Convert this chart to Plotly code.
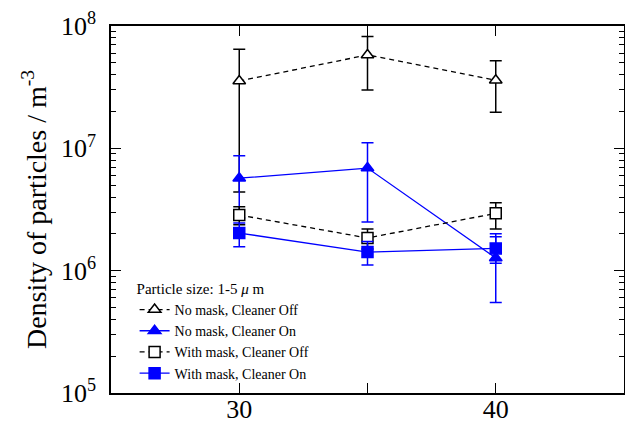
import plotly.graph_objects as go

# Temperature-like x positions (three measurement points)
x_vals = [30, 35, 40]

# No mask, cleaner off (open triangle, black dashed)
nomask_off = [3.55e7, 5.8e7, 3.6e7]
nomask_off_hi = [6.45e7, 8.2e7, 5.2e7]
nomask_off_lo = [4.4e6, 3.0e7, 1.97e7]

# No mask, cleaner on (filled triangle, blue)
nomask_on = [5.7e6, 6.9e6, 1.27e6]
nomask_on_hi = [8.7e6, 1.11e7, 2.0e6]
nomask_on_lo = [2.7e6, 2.5e6, 5.5e5]

# With mask, cleaner off (open square, black dashed)
mask_off = [2.85e6, 1.85e6, 2.94e6]
mask_off_hi = [3.33e6, 2.19e6, 3.59e6]
mask_off_lo = [2.37e6, 1.5e6, 2.19e6]

# With mask, cleaner on (filled square, blue)
mask_on = [2.03e6, 1.42e6, 1.52e6]
mask_on_hi = [2.45e6, 1.73e6, 1.89e6]
mask_on_lo = [1.57e6, 1.11e6, 1.15e6]

y_tickvals = [1e5, 1e6, 1e7, 1e8]
y_ticktext = ["10<sup>5</sup>", "10<sup>6</sup>", "10<sup>7</sup>", "10<sup>8</sup>"]

BLUE = "rgb(0,0,255)"
FONT = "Liberation Serif, Times New Roman, serif"


def _trace(name, y, hi, lo, color, dash, symbol, size, fill):
    return go.Scatter(
        x=x_vals, y=y, name=name, mode="lines+markers",
        line=dict(color=color, width=1.3, dash=dash),
        marker=dict(symbol=symbol, size=size, color=fill,
                    line=dict(color=color, width=1.5)),
        error_y=dict(type="data", symmetric=False,
                     array=[h - v for h, v in zip(hi, y)],
                     arrayminus=[v - l for l, v in zip(lo, y)],
                     color=color, thickness=1.5, width=6),
    )


fig = go.Figure()
fig.add_trace(_trace("No mask, Cleaner Off", nomask_off, nomask_off_hi, nomask_off_lo,
                     "black", "5px,4px", "triangle-up", 11, "white"))
fig.add_trace(_trace("No mask, Cleaner On", nomask_on, nomask_on_hi, nomask_on_lo,
                     BLUE, "solid", "triangle-up", 11, BLUE))
fig.add_trace(_trace("With mask, Cleaner Off", mask_off, mask_off_hi, mask_off_lo,
                     "black", "5px,4px", "square", 11, "white"))
fig.add_trace(_trace("With mask, Cleaner On", mask_on, mask_on_hi, mask_on_lo,
                     BLUE, "solid", "square", 11, BLUE))

minor_y = [m * 10 ** e for e in (5, 6, 7) for m in range(2, 10)]

fig.update_layout(
    width=625, height=426,
    margin=dict(l=111, r=1, t=26, b=33),
    paper_bgcolor="white", plot_bgcolor="white",
    font=dict(family=FONT, color="black"),
    showlegend=True,
    legend=dict(
        x=0.046, y=0.323, xanchor="left", yanchor="top",
        bgcolor="rgba(0,0,0,0)", font=dict(size=14),
        title=dict(text="Particle size: 1-5 <i>μ</i> m", font=dict(size=15)),
        itemwidth=30,
    ),
    xaxis=dict(
        range=[25, 45], tickmode="array", tickvals=[30, 40], ticktext=["30", "40"],
        ticks="inside", ticklen=10, tickwidth=1.2, tickcolor="black",
        showline=True, linecolor="black", linewidth=1.5, mirror="ticks",
        showgrid=False, zeroline=False, tickfont=dict(size=26),
        automargin=False, ticklabelstandoff=-8,
        minor=dict(tickmode="array", tickvals=[35], ticks="inside", ticklen=10,
                   tickcolor="black", tickwidth=1.2, showgrid=False),
    ),
    yaxis=dict(
        type="log", range=[5, 8], tickmode="array",
        tickvals=y_tickvals, ticktext=y_ticktext,
        ticks="inside", ticklen=10, tickwidth=1.2, tickcolor="black",
        showline=True, linecolor="black", linewidth=1.5, mirror="ticks",
        showgrid=False, zeroline=False, tickfont=dict(size=26),
        automargin=False, ticklabelstandoff=8,
        title=dict(text="Density of particles / m<sup>-3</sup>",
                   font=dict(size=28), standoff=6),
        minor=dict(tickmode="array", tickvals=minor_y, ticks="inside", ticklen=5,
                   tickcolor="black", tickwidth=1, showgrid=False),
    ),
)

# drop the default page margin so the 625x426 figure fills the window exactly
fig.write_html("out.html", config={"displayModeBar": False},
               post_script="document.body.style.margin = '0';")
